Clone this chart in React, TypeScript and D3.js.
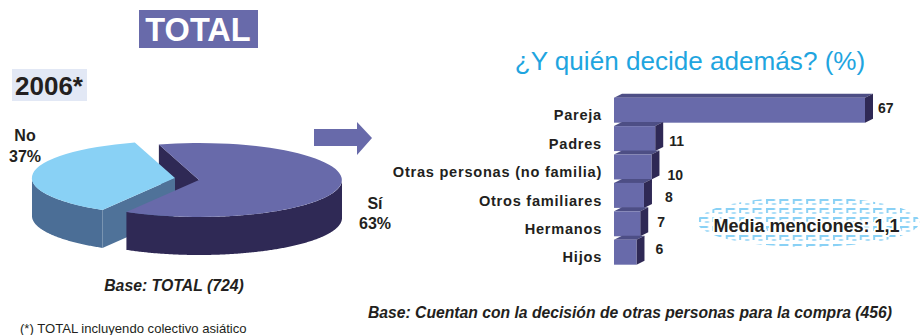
import * as d3 from 'd3'

const pieLabels = ['Sí', 'No']
const pieValues = [63, 37]
const categories = ['Pareja', 'Padres', 'Otras personas (no familia)', 'Otros familiares', 'Hermanos', 'Hijos']
const mentions = [67, 11, 10, 8, 7, 6]

// hand nudges for the value labels, they don't sit centred in the source
const valueNudge = [[5, -2.5], [6, 2.4], [8, 8.5], [13, 2], [9, -1.5], [11, -3.5]]

const font = '"Liberation Sans", Arial, sans-serif'
const purple = '#686aaa'
const dark = '#2f2955'
const sky = '#89d1f5'
const steel = '#4b6e96'
const ink = '#231f20'

const rx = 143, ry = 37, depth = 38
const deg = Math.PI / 180
const pieStart = -16.3 * deg

const slices = d3.pie<number>().sort(null).startAngle(pieStart).endAngle(pieStart + 2 * Math.PI)(pieValues)
const topArc = d3.arc<d3.PieArcDatum<number>>().innerRadius(0).outerRadius(1)

const px = (a: number) => rx * Math.sin(a)
const py = (a: number) => -ry * Math.cos(a)

// outer wall of the pie between two angles
const wall = (a0: number, a1: number) =>
  d3.area<number>().x(px).y0(py).y1(a => py(a) + depth)(d3.range(a0, a1, 0.01).concat(a1))

// side wall along the radius at one angle
const cut = (a: number) => `M0,0L${px(a)},${py(a)}L${px(a)},${py(a) + depth}L0,${depth}Z`

const x = d3.scaleLinear().domain([0, 67]).range([0, 251])
const y = d3.scaleBand().domain(categories).range([96, 266.4]).paddingInner(0.12).paddingOuter(0.06)
const barLeft = 614, dx = 8, dy = 4

export default function App() {
  const [si, no] = slices
  const h = y.bandwidth()
  return (
    <svg width={920} height={335} style={{ position: 'absolute', left: 0, top: 0, background: '#fff' }} fontFamily={font}>
      <defs>
        <pattern id="dots" width={13.4} height={9} patternUnits="userSpaceOnUse" x={698} y={198}>
          <rect x={1} y={1} width={9} height={2} fill={sky} />
          <rect x={1} y={1} width={2} height={5} fill={sky} />
          <rect x={7} y={5} width={4} height={2} fill={sky} opacity={0.7} />
        </pattern>
      </defs>

      <rect x={139} y={10} width={119} height={38} fill={purple} />
      <text x={198} y={40.5} textAnchor="middle" fontSize={32.5} fontWeight="bold" fill="#fff">TOTAL</text>

      <rect x={12} y={69} width={75} height={32} fill="#e2e8f5" />
      <text x={15} y={95} fontSize={26} fontWeight="bold" fill={ink}>2006*</text>

      <text x={690} y={70} textAnchor="middle" fontSize={26.1} fill="#1fa5df">¿Y quién decide además? (%)</text>

      {/* pie, the No slice is pulled out to the left */}
      <g transform="translate(199,180)">
        <path d={cut(si.startAngle)} fill={dark} />
      </g>
      <g transform="translate(175,178)">
        <path d={wall(no.startAngle, 270 * deg) ?? ''} fill={steel} />
        <path d={cut(no.startAngle)} fill="#4f7299" />
        <path d={topArc(no) ?? ''} transform={`scale(${rx},${ry})`} fill={sky} />
      </g>
      <g transform="translate(199,180)">
        <path d={wall(90 * deg, si.endAngle) ?? ''} fill={dark} />
        <path d={topArc(si) ?? ''} transform={`scale(${rx},${ry})`} fill={purple} />
      </g>

      <g fontSize={16} fontWeight="bold" fill={ink} textAnchor="middle">
        <text x={25} y={141}>{pieLabels[1]}</text>
        <text x={25} y={162}>{pieValues[1]}%</text>
        <text x={375} y={209}>{pieLabels[0]}</text>
        <text x={375} y={229}>{pieValues[0]}%</text>
      </g>

      <path d="M314,129H357V122L372,138L357,155V146H314Z" fill={purple} />

      {/* bars, back to front so each top face sits behind the bar above it */}
      {categories.map((c, i) => {
        const w = x(mentions[i])
        const t = y(c) as number
        return (
          <g key={c}>
            <path
              d={`M${barLeft},${t}L${barLeft + dx},${t - dy}H${barLeft + w + dx}L${barLeft + w},${t}Z`}
              fill="#4d4e85"
            />
            <path
              d={`M${barLeft + w},${t}L${barLeft + w + dx},${t - dy}V${t + h - dy}L${barLeft + w},${t + h}Z`}
              fill={dark}
            />
            <rect x={barLeft} y={t} width={w} height={h} fill={purple} />
            <text x={602} y={t + h / 2 + 5} dy="0.35em" textAnchor="end" fontSize={14.6} fontWeight="bold" letterSpacing={0.75} fill={ink}>
              {c}
            </text>
            <text
              x={barLeft + w + dx + valueNudge[i][0]}
              y={t + h / 2 + valueNudge[i][1]}
              dy="0.35em"
              fontSize={14}
              fontWeight="bold"
              fill={ink}
            >
              {mentions[i]}
            </text>
          </g>
        )
      })}

      <ellipse cx={808.5} cy={222} rx={111} ry={25} fill="url(#dots)" />
      <text
        x={806.5}
        y={232}
        textAnchor="middle"
        fontSize={18}
        fontWeight="bold"
        fill={ink}
        stroke="#fff"
        strokeWidth={4}
        paintOrder="stroke"
        strokeLinejoin="round"
      >
        Media menciones: 1,1
      </text>

      <text x={174} y={291} textAnchor="middle" fontSize={15.8} fontWeight="bold" fontStyle="italic" fill={ink}>Base: TOTAL (724)</text>
      <text x={630} y={318} textAnchor="middle" fontSize={15.7} fontWeight="bold" fontStyle="italic" fill={ink}>
        Base: Cuentan con la decisión de otras personas para la compra (456)
      </text>
      <text x={20} y={333} fontSize={13.1} fill={ink}>(*) TOTAL incluyendo colectivo asiático</text>
    </svg>
  )
}
